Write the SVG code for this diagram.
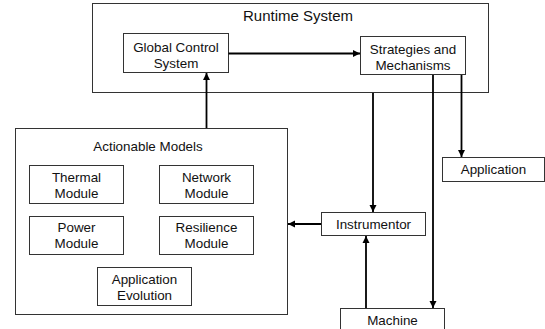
<svg xmlns="http://www.w3.org/2000/svg" width="545" height="329" viewBox="0 0 545 329">
<defs>
<marker id="ah" markerWidth="8" markerHeight="8" refX="7" refY="4" orient="auto" markerUnits="userSpaceOnUse">
<path d="M0,0.5 L7,4 L0,7.5 Z" fill="#000"/>
</marker>
<style>
.box{fill:#fff;stroke:#333;stroke-width:1}
.t{font-family:"Liberation Sans",Arial,sans-serif;font-size:13.4px;fill:#111;text-anchor:middle}
.title{font-size:15px}
.c{stroke:#000;stroke-width:1.8;fill:none}
.ca{stroke:#000;stroke-width:1.8;fill:none;marker-end:url(#ah)}
</style>
</defs>
<rect width="545" height="329" fill="#fff"/>
<g id="runtime">
<rect class="box" x="92.5" y="3.5" width="396" height="89"/>
<text class="t title" x="298" y="21">Runtime System</text>
</g>
<g id="global-control">
<rect class="box" x="123.5" y="33.5" width="105" height="39"/>
<text class="t" x="176" y="51.5">Global Control</text>
<text class="t" x="176" y="68">System</text>
</g>
<g id="strategies">
<rect class="box" x="360.5" y="36.5" width="105" height="38"/>
<text class="t" x="413" y="54">Strategies and</text>
<text class="t" x="413" y="70">Mechanisms</text>
</g>
<g id="actionable-models">
<rect class="box" x="15.5" y="128.5" width="272" height="186"/>
<text class="t" x="148" y="151">Actionable Models</text>
</g>
<g id="thermal">
<rect class="box" x="29.5" y="165.5" width="94" height="38"/>
<text class="t" x="76.5" y="181.5">Thermal</text>
<text class="t" x="76.5" y="198">Module</text>
</g>
<g id="network">
<rect class="box" x="159.5" y="165.5" width="94" height="38"/>
<text class="t" x="206.5" y="181.5">Network</text>
<text class="t" x="206.5" y="198">Module</text>
</g>
<g id="power">
<rect class="box" x="29.5" y="216.5" width="94" height="38"/>
<text class="t" x="76.5" y="232">Power</text>
<text class="t" x="76.5" y="248">Module</text>
</g>
<g id="resilience">
<rect class="box" x="159.5" y="216.5" width="94" height="38"/>
<text class="t" x="206.5" y="232">Resilience</text>
<text class="t" x="206.5" y="248">Module</text>
</g>
<g id="app-evolution">
<rect class="box" x="97.5" y="267.5" width="94" height="38"/>
<text class="t" x="144.5" y="284">Application</text>
<text class="t" x="144.5" y="300">Evolution</text>
</g>
<g id="instrumentor">
<rect class="box" x="321.5" y="212.5" width="104" height="23"/>
<text class="t" x="373.5" y="229">Instrumentor</text>
</g>
<g id="application">
<rect class="box" x="442.5" y="157.5" width="102" height="24"/>
<text class="t" x="493.5" y="174">Application</text>
</g>
<g id="machine">
<rect class="box" x="340.5" y="308.5" width="104" height="24"/>
<text class="t" x="392.5" y="325">Machine</text>
</g>
<g id="connectors">
<line class="ca" x1="228.5" y1="53.5" x2="360" y2="53.5"/>
<line class="ca" x1="206.5" y1="128" x2="206.5" y2="73"/>
<line class="ca" x1="373" y1="93" x2="373" y2="212"/>
<line class="ca" x1="433" y1="75" x2="433" y2="308"/>
<line class="ca" x1="461.5" y1="75" x2="461.5" y2="157"/>
<line class="ca" x1="366" y1="308" x2="366" y2="236"/>
<line class="ca" x1="321" y1="224" x2="288" y2="224"/>
</g>
</svg>
